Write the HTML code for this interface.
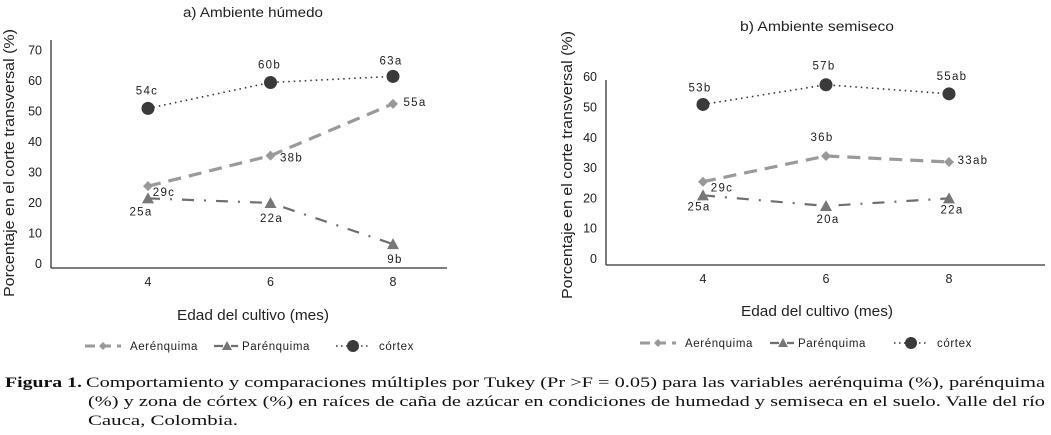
<!DOCTYPE html>
<html><head><meta charset="utf-8">
<style>
html,body{margin:0;padding:0;background:#fff;}
svg{display:block;font-family:"Liberation Sans","DejaVu Sans",sans-serif;}
.t{fill:#222;}
</style></head>
<body>
<svg id="svg" width="1051" height="435" viewBox="0 0 1051 435">
</svg>
<script>
// ---- data ----
const months = [4, 6, 8];
const aHumAer = [26.5, 36.5, 53.5];
const aHumPar = [22.5, 21, 7.5];
const aHumCor = [52, 60.5, 62.5];
const aHumAerLbl = ["29c", "38b", "55a"];
const aHumParLbl = ["25a", "22a", "9b"];
const aHumCorLbl = ["54c", "60b", "63a"];
const aTicks = [0, 10, 20, 30, 40, 50, 60, 70];

const bSemAer = [26.5, 35, 33];
const bSemPar = [22, 18.5, 21];
const bSemCor = [52, 58.5, 55.5];
const bSemAerLbl = ["29c", "36b", "33ab"];
const bSemParLbl = ["25a", "20a", "22a"];
const bSemCorLbl = ["53b", "57b", "55ab"];
const bTicks = [0, 10, 20, 30, 40, 50, 60];

const NS = "http://www.w3.org/2000/svg";
const svg = document.getElementById("svg");
function mk(tag, attrs, parent, text) {
  const e = document.createElementNS(NS, tag);
  for (const k in attrs) e.setAttribute(k, attrs[k]);
  if (text !== undefined) e.textContent = text;
  (parent || svg).appendChild(e);
  return e;
}

function chart(cfg) {
  const g = mk("g", {});
  
  
  const xS = m => cfg.x4 + (m - 4) / 2 * cfg.dx;
  const yS = v => cfg.y0 - v * cfg.per10 / 10;
  const ya = mk("line", {x1: cfg.ax, y1: cfg.top, x2: cfg.ax, y2: cfg.base, stroke: "#333", "stroke-width": 1.3}, g);
  
  
  const xa = mk("line", {x1: cfg.ax, y1: cfg.base, x2: cfg.right, y2: cfg.base, stroke: "#333", "stroke-width": 1.3}, g);
  
  
  cfg.ticks.forEach(t => {
    const e = mk("text", {x: cfg.ax - 9, y: yS(t) + 1, "text-anchor": "end", "font-size": 12.5, class: "t"}, g, String(t));
    
    
  });
  months.forEach(m => {
    const e = mk("text", {x: xS(m), y: cfg.base + 18, "text-anchor": "middle", "font-size": 12.5, class: "t"}, g, String(m));
    
    
  });
  const tt = mk("text", {x: cfg.titleX, y: cfg.titleY, "text-anchor": "middle", "font-size": 13.5, textLength: cfg.titleW, lengthAdjust: "spacingAndGlyphs", class: "t"}, g, cfg.title);
  
  
  const xt = mk("text", {x: cfg.titleX, y: cfg.xtY, "text-anchor": "middle", "font-size": 15, textLength: 152, lengthAdjust: "spacingAndGlyphs", class: "t"}, g, "Edad del cultivo (mes)");
  
  
  const yt = mk("text", {x: 0, y: 0, "text-anchor": "middle", "font-size": 15, textLength: cfg.ytW, lengthAdjust: "spacingAndGlyphs", class: "t", transform: `translate(${cfg.ytX},${cfg.ytY}) rotate(-90)`}, g, "Porcentaje en el corte transversal (%)");
  
  

  function series(vals, lbls, style, marker, color, lblOff, name) {
    const pts = vals.map((v, i) => [xS(months[i]), yS(v)]);
    const p = mk("polyline", {points: pts.map(p => p.join(",")).join(" "), fill: "none", stroke: color, "stroke-width": style.w, "stroke-dasharray": style.d}, g);
    
    
    pts.forEach((pt, i) => {
      let e;
      if (marker === "circle") e = mk("circle", {cx: pt[0], cy: pt[1], r: 6.5, fill: "#3a3a3a"}, g);
      else if (marker === "diamond") e = mk("polygon", {points: `${pt[0]},${pt[1]-5} ${pt[0]+5},${pt[1]} ${pt[0]},${pt[1]+5} ${pt[0]-5},${pt[1]}`, fill: "#999"}, g);
      else e = mk("polygon", {points: `${pt[0]},${pt[1]-6} ${pt[0]+6},${pt[1]+5} ${pt[0]-6},${pt[1]+5}`, fill: "#777"}, g);
      
      
      const o = lblOff[i];
      const l = mk("text", {x: pt[0] + o[0], y: pt[1] + o[1], "text-anchor": "middle", "font-size": 11.5, "letter-spacing": 1.3, class: "t"}, g, lbls[i]);
      
      
    });
  }
  series(cfg.aer, cfg.aerL, {w: 3.2, d: "13 8"}, "diamond", "#9a9a9a", cfg.aerO, "aerenquima");
  series(cfg.par, cfg.parL, {w: 2.2, d: "12 10 2 10"}, "tri", "#6f6f6f", cfg.parO, "parenquima");
  series(cfg.cor, cfg.corL, {w: 1.6, d: "1.5 4"}, "circle", "#333", cfg.corO, "cortex");

  const lg = mk("g", {}, g);
  
  
  const L = cfg.leg, y = L.y;
  mk("line", {x1: L.a, y1: y, x2: L.a + 36, y2: y, stroke: "#9a9a9a", "stroke-width": 3, "stroke-dasharray": "10 6"}, lg);
  mk("polygon", {points: `${L.a+18},${y-4} ${L.a+22},${y} ${L.a+18},${y+4} ${L.a+14},${y}`, fill: "#999"}, lg);
  let e = mk("text", {x: L.a + 45, y: y + 4, "font-size": 11.5, "letter-spacing": 0.6, class: "t"}, lg, "Aerénquima");
  
  
  mk("line", {x1: L.p, y1: y, x2: L.p + 24, y2: y, stroke: "#6f6f6f", "stroke-width": 2.2, "stroke-dasharray": "9 3 2 3"}, lg);
  mk("polygon", {points: `${L.p+13},${y-5} ${L.p+18},${y+4} ${L.p+8},${y+4}`, fill: "#777"}, lg);
  e = mk("text", {x: L.p + 28, y: y + 4, "font-size": 11.5, "letter-spacing": 0.6, class: "t"}, lg, "Parénquima");
  
  
  mk("line", {x1: L.c, y1: y, x2: L.c + 34, y2: y, stroke: "#333", "stroke-width": 1.5, "stroke-dasharray": "1.5 3.5"}, lg);
  mk("circle", {cx: L.c + 17, cy: y, r: 6, fill: "#3a3a3a"}, lg);
  e = mk("text", {x: L.c + 43, y: y + 4, "font-size": 11.5, "letter-spacing": 0.6, class: "t"}, lg, "córtex");
  
  
}

chart({name: "chart-a-humedo", ax: 51, top: 40, base: 268, right: 447, x4: 148, dx: 122.5, y0: 267, per10: 30.5,
  ticks: aTicks, title: "a) Ambiente húmedo", titleW: 140, titleX: 253, titleY: 17, xtY: 320, ytX: 14, ytY: 163, ytW: 268,
  aer: aHumAer, aerL: aHumAerLbl, aerO: [[16, 10], [21, 6], [22, 2]],
  par: aHumPar, parL: aHumParLbl, parO: [[-7, 17], [1, 19], [2, 19]],
  cor: aHumCor, corL: aHumCorLbl, corO: [[-1, -14], [-1, -14], [-2, -12]],
  leg: {y: 346, a: 85, p: 214, c: 336}});

chart({name: "chart-b-semiseco", ax: 606, top: 80, base: 265, right: 1045, x4: 703, dx: 123, y0: 262, per10: 30.3,
  ticks: bTicks, title: "b) Ambiente semiseco", titleW: 154, titleX: 817, titleY: 31, xtY: 316, ytX: 572, ytY: 165, ytW: 268,
  aer: bSemAer, aerL: bSemAerLbl, aerO: [[19, 10], [-4, -15], [24, 2]],
  par: bSemPar, parL: bSemParLbl, parO: [[-4, 15], [2, 17], [3, 15]],
  cor: bSemCor, corL: bSemCorLbl, corO: [[-3, -13], [-2, -15], [3, -14]],
  leg: {y: 343, a: 640, p: 770, c: 894}});

const cap = mk("g", {"font-family": "\"Liberation Serif\", serif", "font-size": 14.5, fill: "#111"});


mk("text", {x: 5, y: 387, "font-weight": "bold", textLength: 77, lengthAdjust: "spacingAndGlyphs"}, cap, "Figura 1.");
mk("text", {x: 86, y: 387, textLength: 959, lengthAdjust: "spacingAndGlyphs"}, cap, "Comportamiento y comparaciones múltiples por Tukey (Pr >F = 0.05) para las variables aerénquima (%), parénquima");
mk("text", {x: 88, y: 406, textLength: 957, lengthAdjust: "spacingAndGlyphs"}, cap, "(%) y zona de córtex (%) en raíces de caña de azúcar en condiciones de humedad y semiseca en el suelo.  Valle del río");
mk("text", {x: 88, y: 425, textLength: 150, lengthAdjust: "spacingAndGlyphs"}, cap, "Cauca, Colombia.");
</script>
</body></html>
